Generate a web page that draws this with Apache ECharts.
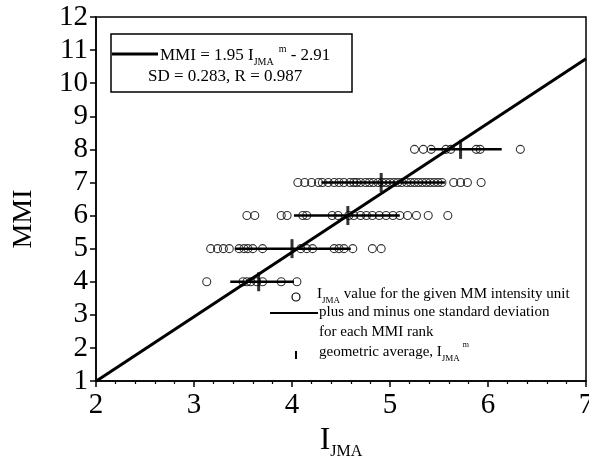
<!DOCTYPE html>
<html>
<head>
<meta charset="utf-8">
<script src="https://cdn.jsdelivr.net/npm/echarts@6/dist/echarts.min.js"></script>
<style>
html,body{margin:0;padding:0;background:#fff;}
#chart{width:589px;height:456px;}
</style>
</head>
<body>
<div id="chart"></div>
<script>
// ---- data ----
const mmiLevels = [4, 5, 6, 7, 8];
const ijmaRow4 = [3.13, 3.50, 3.54, 3.58, 3.64, 3.70, 3.89, 4.05];
const ijmaRow5 = [3.17, 3.24, 3.30, 3.36, 3.46, 3.51, 3.55, 3.60, 3.70, 4.09, 4.15, 4.21, 4.43, 4.48, 4.53, 4.62, 4.82, 4.91];
const ijmaRow6 = [3.54, 3.62, 3.89, 3.95, 4.11, 4.15, 4.41, 4.47, 4.58, 4.63, 4.70, 4.76, 4.82, 4.89, 4.96, 5.03, 5.10, 5.18, 5.27, 5.39, 5.59];
const ijmaRow7 = [4.06, 4.13, 4.20, 4.27, 4.31, 4.37, 4.43, 4.48, 4.53, 4.59, 4.63, 4.66, 4.70, 4.75, 4.79, 4.83, 4.88, 4.92, 4.96, 5.00, 5.04, 5.08, 5.12, 5.17, 5.21, 5.25, 5.29, 5.33, 5.37, 5.41, 5.45, 5.49, 5.53, 5.65, 5.72, 5.79, 5.93];
const ijmaRow8 = [5.25, 5.34, 5.42, 5.57, 5.62, 5.88, 5.92, 6.33];
const geoMean = [3.66, 4.00, 4.57, 4.91, 5.72];
const sdLow = [3.37, 3.42, 4.02, 4.30, 5.40];
const sdHigh = [4.02, 4.60, 5.10, 5.56, 6.14];
const fitSlope = 1.95;
const fitIntercept = -2.91;
const fitRange = [2, 7];
const xTicks = [2, 3, 4, 5, 6, 7];
const yTicks = [1, 2, 3, 4, 5, 6, 7, 8, 9, 10, 11, 12];

const rows = [ijmaRow4, ijmaRow5, ijmaRow6, ijmaRow7, ijmaRow8];
const SERIF = '"Liberation Serif","DejaVu Serif",serif';

const series = [];
rows.forEach((row, i) => {
  series.push({
    type: 'scatter',
    data: row.map(v => [v, mmiLevels[i]]),
    symbol: 'circle',
    symbolSize: 8,
    itemStyle: { color: 'rgba(0,0,0,0)', borderColor: '#000', borderWidth: 1.1 },
    z: 2
  });
});
mmiLevels.forEach((m, i) => {
  series.push({
    type: 'line',
    data: [[sdLow[i], m], [sdHigh[i], m]],
    symbol: 'none',
    lineStyle: { color: '#000', width: 2.5 },
    z: 3
  });
});
series.push({
  type: 'scatter',
  data: geoMean.map((g, i) => [g, mmiLevels[i]]),
  symbol: 'rect',
  symbolSize: [3, 19],
  itemStyle: { color: '#000' },
  z: 4
});
series.push({
  type: 'line',
  data: fitRange.map(x => [x, fitSlope * x + fitIntercept]),
  symbol: 'none',
  lineStyle: { color: '#000', width: 3 },
  z: 5
});

const chart = echarts.init(document.getElementById('chart'), null, { renderer: 'canvas' });
chart.setOption({
  animation: false,
  backgroundColor: '#fff',
  grid: { left: 96, right: 3, top: 17, bottom: 75, show: true, borderColor: '#000', borderWidth: 1.5, containLabel: false, outerBoundsMode: 'none' },
  xAxis: {
    type: 'value', min: xTicks[0], max: xTicks[xTicks.length - 1], interval: 1,
    axisLine: { lineStyle: { color: '#000', width: 1.5 } },
    axisTick: { show: true, length: 6, lineStyle: { color: '#000', width: 1.5 } },
    minorTick: { show: true, splitNumber: 5, length: 3, lineStyle: { color: '#000', width: 1.2 } },
    splitLine: { show: false },
    axisLabel: { color: '#000', fontFamily: SERIF, fontSize: 29, margin: 10 },
    name: '{i|I}{s|JMA}',
    nameLocation: 'middle',
    nameGap: 41,
    nameTextStyle: {
      color: '#000', fontFamily: SERIF,
      rich: {
        i: { fontSize: 32, fontFamily: SERIF, color: '#000', verticalAlign: 'top' },
        s: { fontSize: 16, fontFamily: SERIF, color: '#000', verticalAlign: 'top', padding: [19, 0, 0, 0] }
      }
    }
  },
  yAxis: {
    type: 'value', min: yTicks[0], max: yTicks[yTicks.length - 1], interval: 1,
    axisLine: { lineStyle: { color: '#000', width: 1.5 } },
    axisTick: { show: true, length: 6, lineStyle: { color: '#000', width: 1.5 } },
    splitLine: { show: false },
    axisLabel: { color: '#000', fontFamily: SERIF, fontSize: 29, margin: 8 },
    name: 'MMI',
    nameLocation: 'middle',
    nameGap: 58,
    nameRotate: 90,
    nameTextStyle: { color: '#000', fontFamily: SERIF, fontSize: 28, padding: [0, 40, 0, 0] }
  },
  graphic: [
    { type: 'rect', shape: { x: 111, y: 34, width: 241, height: 58 }, style: { fill: '#fff', stroke: '#000', lineWidth: 1.5 }, z: 100 },
    { type: 'line', shape: { x1: 112, y1: 54, x2: 158, y2: 54 }, style: { stroke: '#000', lineWidth: 3 }, z: 101 },
    { type: 'text', x: 160, y: 44, z: 101, style: {
        text: '{n|MMI = 1.95 I}{sub|JMA}{sup|m}{n| - 2.91}',
        fill: '#000',
        rich: {
          n: { fontSize: 17, fontFamily: SERIF, verticalAlign: 'top', padding: [3, 0, 0, 0] },
          sub: { fontSize: 10, fontFamily: SERIF, verticalAlign: 'top', padding: [13, 0, 0, 0] },
          sup: { fontSize: 10, fontFamily: SERIF, verticalAlign: 'top', padding: [0, 0, 0, 5] }
        }
    } },
    { type: 'text', x: 148, y: 68, z: 101, style: { text: 'SD = 0.283, R = 0.987', fill: '#000', font: '17px ' + SERIF } },
    // bottom-right legend
    { type: 'circle', shape: { cx: 296, cy: 297, r: 4 }, style: { fill: 'none', stroke: '#000', lineWidth: 1.2 }, z: 101 },
    { type: 'text', x: 317, y: 286, z: 101, style: {
        text: '{n|I}{sub|JMA}{n| value for the given MM intensity unit}',
        fill: '#000',
        rich: {
          n: { fontSize: 15, fontFamily: SERIF, verticalAlign: 'top', padding: [1, 0, 0, 0] },
          sub: { fontSize: 9, fontFamily: SERIF, verticalAlign: 'top', padding: [10, 0, 0, 0] }
        }
    } },
    { type: 'line', shape: { x1: 270, y1: 313, x2: 318, y2: 313 }, style: { stroke: '#000', lineWidth: 2 }, z: 101 },
    { type: 'text', x: 319, y: 305, z: 101, style: { text: 'plus and minus one standard deviation', fill: '#000', font: '15px ' + SERIF } },
    { type: 'text', x: 319, y: 325, z: 101, style: { text: 'for each MMI rank', fill: '#000', font: '15px ' + SERIF } },
    { type: 'rect', shape: { x: 295, y: 351, width: 2, height: 8 }, style: { fill: '#000' }, z: 101 },
    { type: 'text', x: 319, y: 341, z: 101, style: {
        text: '{n|geometric average, I}{sub|JMA}{sup|m}',
        fill: '#000',
        rich: {
          n: { fontSize: 15, fontFamily: SERIF, verticalAlign: 'top', padding: [4, 0, 0, 0] },
          sub: { fontSize: 9, fontFamily: SERIF, verticalAlign: 'top', padding: [13, 0, 0, 0] },
          sup: { fontSize: 8, fontFamily: SERIF, verticalAlign: 'top', padding: [0, 0, 0, 3] }
        }
    } }
  ],
  series: series
});
</script>
</body>
</html>
